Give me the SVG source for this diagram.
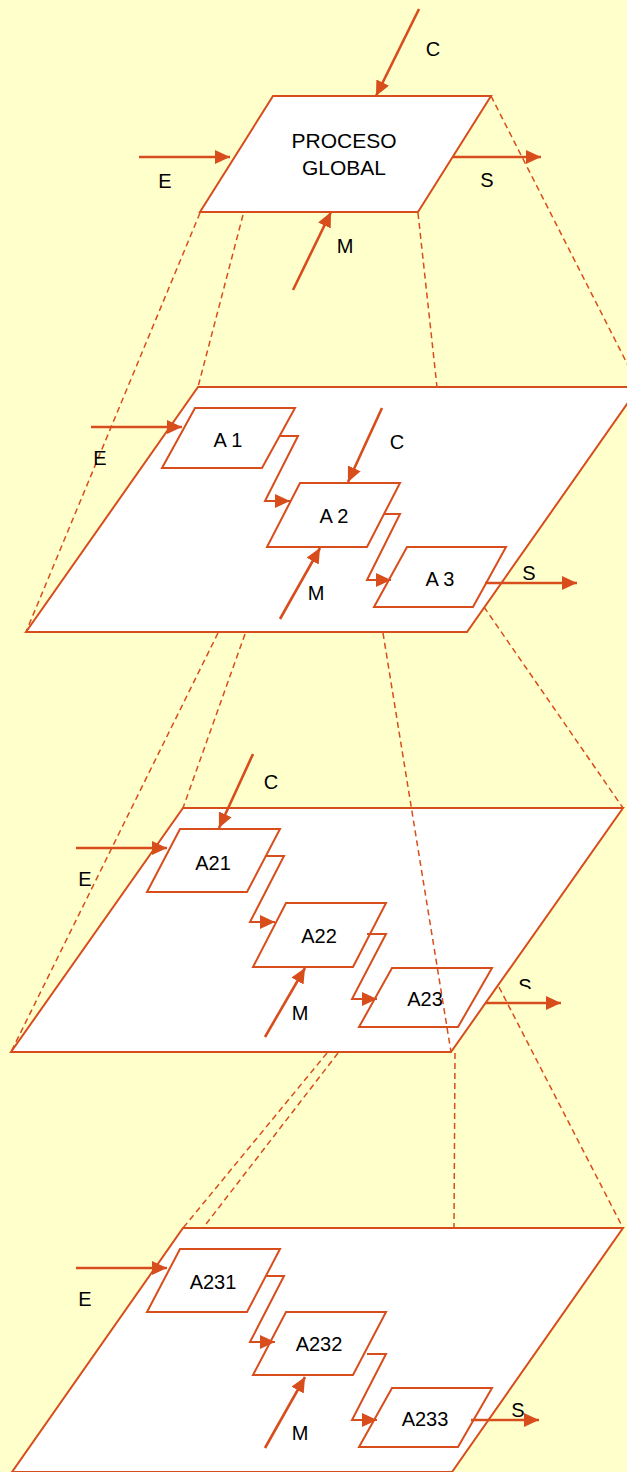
<svg xmlns="http://www.w3.org/2000/svg" width="627" height="1472" viewBox="0 0 627 1472">
<style>
.pl{fill:#FFFFFF;stroke:#D84D1C;stroke-width:2;stroke-linejoin:miter}
.bx{fill:#FFFFFF;stroke:#D84D1C;stroke-width:2}
.ar{fill:none;stroke:#D84D1C;stroke-width:2.6;marker-end:url(#ah)}
.cn{fill:none;stroke:#D84D1C;stroke-width:2;marker-end:url(#ah)}
.ds{fill:none;stroke:#D84D1C;stroke-width:1.5;stroke-dasharray:6 4}
text{font-family:"Liberation Sans",Arial,sans-serif;font-size:20px;fill:#000000;text-anchor:middle}
</style>
<defs>
<marker id="ah" markerUnits="userSpaceOnUse" markerWidth="16" markerHeight="14" refX="15" refY="7" orient="auto">
<path d="M0,0 L15,7 L0,14 z" fill="#D84D1C"/>
</marker>
<clipPath id="sclip"><rect x="500" y="960" width="60" height="29"/></clipPath>
</defs>
<rect x="0" y="0" width="627" height="1472" fill="#FFFFCC"/>

<g id="proceso-global">
<polygon class="pl" points="273,96 491,96 418,212 200,212"/>
<text x="344" y="148" style="font-size:21px">PROCESO</text>
<text x="344" y="175" style="font-size:21px">GLOBAL</text>
</g>

<g id="nivel-1">
<polygon class="pl" points="198,387 639,387 467,632 26,632"/>
<g id="A1"><polygon class="bx" points="195,408 295,408 262,468 162,468"/><text x="228" y="447">A 1</text></g>
<g id="A2"><polygon class="bx" points="300,483 400,483 367,547 267,547"/><text x="334" y="523">A 2</text></g>
<g id="A3"><polygon class="bx" points="407,547 506,547 473,607 374,607"/><text x="440" y="586">A 3</text></g>
</g>

<g id="nivel-2">
<polygon class="pl" points="183,808 623,808 451,1052 11,1052"/>
<g id="A21"><polygon class="bx" points="180,829 280,829 247,892 147,892"/><text x="213" y="870">A21</text></g>
<g id="A22"><polygon class="bx" points="286,903 386,903 353,967 253,967"/><text x="319" y="943">A22</text></g>
<g id="A23"><polygon class="bx" points="392,968 492,968 458,1027 359,1027"/><text x="425" y="1006">A23</text></g>
</g>

<g id="nivel-3">
<polygon class="pl" points="183,1228 623,1228 452,1472 12,1472"/>
<g id="A231"><polygon class="bx" points="180,1249 280,1249 247,1312 147,1312"/><text x="213" y="1289">A231</text></g>
<g id="A232"><polygon class="bx" points="286,1312 386,1312 353,1375 253,1375"/><text x="319" y="1351">A232</text></g>
<g id="A233"><polygon class="bx" points="392,1388 492,1388 458,1447 359,1447"/><text x="425" y="1426">A233</text></g>
</g>

<g id="connectors">
<!-- projection lines -->
<line class="ds" x1="200" y1="213" x2="26" y2="632"/>
<line class="ds" x1="243" y1="215" x2="198" y2="387"/>
<line class="ds" x1="418" y1="213" x2="437" y2="387"/>
<line class="ds" x1="491" y1="96" x2="639" y2="387"/>
<line class="ds" x1="218" y1="633" x2="11" y2="1052"/>
<line class="ds" x1="245" y1="634" x2="183" y2="808"/>
<line class="ds" x1="383" y1="633" x2="451" y2="1052"/>
<line class="ds" x1="484" y1="607" x2="623" y2="808"/>
<line class="ds" x1="327" y1="1053" x2="183" y2="1228"/>
<line class="ds" x1="338" y1="1053" x2="203" y2="1228"/>
<line class="ds" x1="455" y1="1053" x2="454" y2="1228"/>
<line class="ds" x1="499" y1="987" x2="623" y2="1228"/>

<!-- level 0 -->
<line class="ar" x1="419" y1="9" x2="376" y2="96"/>
<line class="ar" x1="139" y1="157" x2="230" y2="157"/>
<line class="ar" x1="453" y1="157" x2="541" y2="157"/>
<line class="ar" x1="293" y1="290" x2="331" y2="212"/>
<text x="433" y="56">C</text>
<text x="165" y="188">E</text>
<text x="487" y="187">S</text>
<text x="345" y="253">M</text>

<!-- level 1 -->
<line class="ar" x1="91" y1="427" x2="182" y2="427"/>
<line class="ar" x1="382" y1="408" x2="348" y2="482"/>
<line class="ar" x1="280" y1="619" x2="320" y2="548"/>
<line class="ar" x1="485" y1="583" x2="577" y2="583"/>
<polyline class="cn" points="279,436 298,436 265,501 290,501"/>
<polyline class="cn" points="384,514 400,514 367,580 391,580"/>
<text x="100" y="465">E</text>
<text x="397" y="449">C</text>
<text x="316" y="600">M</text>
<text x="529" y="580">S</text>

<!-- level 2 -->
<line class="ar" x1="76" y1="848" x2="167" y2="848"/>
<line class="ar" x1="253" y1="754" x2="219" y2="828"/>
<line class="ar" x1="265" y1="1037" x2="305" y2="968"/>
<line class="ar" x1="485" y1="1003" x2="561" y2="1003"/>
<polyline class="cn" points="265,856 284,856 250,922 275,922"/>
<polyline class="cn" points="367,934 386,934 352,999 377,999"/>
<text x="85" y="886">E</text>
<text x="271" y="789">C</text>
<text x="300" y="1020">M</text>
<text x="525" y="993" clip-path="url(#sclip)">S</text>

<!-- level 3 -->
<line class="ar" x1="76" y1="1268" x2="167" y2="1268"/>
<line class="ar" x1="265" y1="1448" x2="305" y2="1377"/>
<line class="ar" x1="471" y1="1420" x2="539" y2="1420"/>
<polyline class="cn" points="265,1276 284,1276 250,1342 275,1342"/>
<polyline class="cn" points="367,1354 386,1354 352,1420 377,1420"/>
<text x="85" y="1306">E</text>
<text x="300" y="1440">M</text>
<text x="518" y="1417">S</text>
</g>
</svg>
